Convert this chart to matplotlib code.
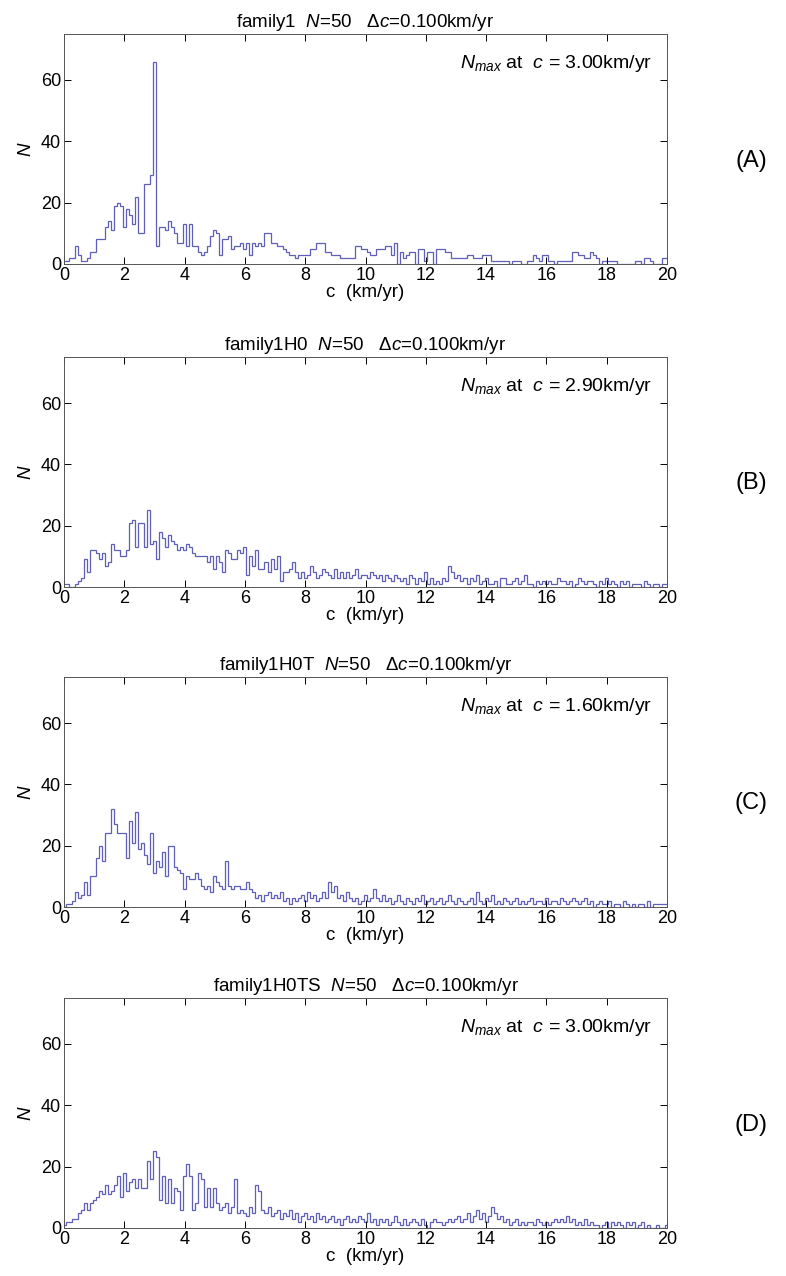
#!/usr/bin/env python3
"""
Velocity histograms for four families (A-D), 0.1 km/yr bins.
"""

import matplotlib

matplotlib.use("Agg")

import matplotlib.pyplot as plt
import numpy as np

plt.rcParams["font.family"] = ["Liberation Sans", "DejaVu Sans"]
plt.rcParams["mathtext.fontset"] = "custom"
plt.rcParams["mathtext.rm"] = "Liberation Sans"
plt.rcParams["mathtext.it"] = "Liberation Sans:italic"

# bin centres 0.0, 0.1, ..., 20.0 km/yr
BIN_CENTERS = np.round(np.arange(0, 201) * 0.1, 2)

COUNTS_A = [
    1, 1, 2, 2, 6, 3, 1, 1, 2, 4, 4, 8, 8, 8, 12, 14, 11, 19, 20, 19,
    12, 18, 16, 13, 22, 10, 10, 26, 26, 29, 66, 6, 12, 12, 11, 14, 12, 10, 7, 7,
    13, 6, 13, 6, 6, 4, 3, 4, 6, 9, 11, 10, 3, 8, 8, 9, 5, 6, 6, 7,
    5, 7, 3, 7, 6, 7, 6, 10, 10, 7, 7, 6, 6, 5, 4, 3, 3, 2, 3, 3,
    3, 3, 5, 5, 7, 7, 7, 4, 4, 3, 3, 3, 2, 2, 2, 2, 2, 6, 6, 5,
    5, 4, 3, 3, 5, 5, 5, 6, 6, 3, 7, 0, 4, 2, 3, 4, 4, 0, 5, 5,
    1, 4, 4, 0, 5, 5, 5, 4, 4, 2, 2, 2, 2, 2, 3, 3, 2, 2, 2, 3,
    3, 3, 1, 1, 1, 1, 1, 1, 0, 1, 1, 1, 0, 0, 1, 1, 3, 2, 1, 3,
    3, 1, 1, 0, 1, 1, 1, 1, 1, 4, 4, 3, 3, 2, 2, 4, 3, 2, 0, 1,
    1, 1, 1, 1, 0, 0, 0, 0, 0, 0, 1, 1, 0, 2, 2, 1, 0, 0, 0, 2,
    2,
]

COUNTS_B = [
    1, 1, 0, 0, 1, 2, 3, 9, 5, 12, 12, 11, 9, 11, 7, 8, 14, 12, 12, 10,
    10, 12, 21, 22, 13, 21, 21, 13, 25, 14, 15, 9, 18, 16, 13, 17, 15, 14, 12, 13,
    12, 14, 13, 11, 10, 10, 10, 10, 8, 10, 6, 10, 8, 5, 12, 11, 9, 9, 12, 11,
    13, 4, 10, 7, 12, 6, 6, 8, 5, 9, 6, 10, 2, 5, 5, 6, 8, 5, 3, 5,
    3, 4, 7, 5, 3, 4, 6, 5, 4, 3, 6, 3, 5, 3, 5, 3, 4, 6, 3, 4,
    4, 3, 5, 4, 3, 4, 2, 4, 3, 2, 4, 3, 2, 3, 1, 4, 3, 1, 3, 2,
    5, 1, 3, 1, 2, 1, 3, 2, 7, 5, 3, 4, 2, 3, 1, 3, 2, 4, 1, 2,
    3, 1, 1, 2, 0, 3, 3, 1, 1, 2, 3, 1, 2, 4, 1, 1, 0, 2, 1, 2,
    1, 2, 1, 1, 3, 2, 2, 1, 2, 0, 1, 3, 2, 1, 2, 2, 1, 0, 2, 1,
    3, 1, 2, 1, 0, 2, 1, 2, 0, 1, 1, 1, 0, 2, 1, 0, 1, 1, 0, 1,
    1,
]

COUNTS_C = [
    0, 1, 1, 2, 5, 3, 4, 8, 4, 10, 10, 16, 20, 15, 24, 24, 32, 27, 24, 24,
    24, 16, 28, 21, 31, 19, 21, 17, 14, 24, 11, 15, 13, 18, 10, 20, 20, 13, 12, 11,
    6, 10, 9, 9, 11, 9, 7, 6, 7, 5, 10, 8, 7, 6, 15, 7, 6, 7, 7, 6,
    6, 8, 6, 5, 3, 4, 2, 4, 5, 3, 4, 3, 5, 2, 3, 1, 3, 2, 3, 4,
    2, 5, 3, 4, 2, 3, 5, 3, 8, 5, 7, 3, 4, 2, 5, 3, 2, 3, 1, 2,
    4, 2, 3, 6, 3, 2, 4, 2, 3, 1, 2, 4, 2, 1, 3, 2, 1, 3, 2, 4,
    1, 2, 3, 1, 2, 3, 1, 2, 4, 2, 1, 3, 2, 1, 2, 3, 1, 5, 2, 1,
    3, 2, 4, 1, 2, 1, 3, 2, 1, 2, 3, 1, 2, 1, 2, 3, 1, 2, 2, 1,
    3, 1, 2, 2, 1, 3, 2, 1, 2, 3, 2, 1, 2, 3, 1, 2, 0, 1, 2, 1,
    1, 2, 0, 1, 1, 0, 2, 1, 0, 1, 0, 1, 1, 0, 2, 0, 1, 1, 1, 1,
    1,
]

COUNTS_D = [
    1, 2, 2, 3, 3, 5, 6, 8, 6, 8, 9, 10, 12, 11, 14, 11, 12, 14, 17, 10,
    18, 12, 15, 16, 13, 16, 13, 13, 22, 16, 25, 23, 9, 17, 8, 16, 8, 13, 12, 6,
    17, 21, 17, 6, 8, 18, 16, 7, 13, 7, 13, 8, 6, 7, 8, 5, 7, 16, 5, 6,
    5, 4, 7, 5, 14, 12, 6, 5, 7, 4, 5, 6, 3, 5, 4, 6, 3, 5, 2, 4,
    5, 3, 4, 2, 5, 3, 4, 2, 3, 4, 2, 3, 1, 3, 4, 2, 3, 2, 4, 3,
    2, 5, 2, 3, 1, 3, 2, 3, 1, 2, 4, 2, 1, 3, 1, 2, 3, 2, 1, 3,
    1, 0, 2, 3, 2, 2, 1, 2, 3, 2, 3, 4, 2, 3, 5, 2, 4, 6, 3, 5,
    2, 4, 7, 5, 3, 4, 2, 3, 1, 2, 3, 1, 2, 1, 2, 2, 1, 3, 2, 1,
    2, 1, 2, 3, 2, 3, 2, 4, 2, 3, 1, 2, 1, 3, 1, 2, 1, 1, 0, 1,
    2, 0, 2, 1, 2, 1, 0, 2, 1, 2, 0, 1, 2, 0, 1, 0, 0, 1, 0, 0,
    1,
]

FAMILIES = ["family1", "family1H0", "family1H0T", "family1H0TS"]
PEAK_C = ["3.00", "2.90", "1.60", "3.00"]
PANEL_TAGS = ["(A)", "(B)", "(C)", "(D)"]

LINE_COLOR = "#5f5fb8"

fig = plt.figure(figsize=(7.86, 12.76), dpi=100)
left, width, height = 64 / 786, 603 / 786, 230 / 1276
bottoms_px = [264, 587, 907, 1228]

edges = np.concatenate([BIN_CENTERS - 0.05, [BIN_CENTERS[-1] + 0.05]])
all_counts = [COUNTS_A, COUNTS_B, COUNTS_C, COUNTS_D]

for name, counts, peak, tag, bpx in zip(FAMILIES, all_counts, PEAK_C, PANEL_TAGS, bottoms_px):
    ax = fig.add_axes([left, (1276 - bpx) / 1276, width, height])
    ax.stairs(counts, edges, color=LINE_COLOR, linewidth=0.9)
    ax.set_xlim(0, 20)
    ax.set_ylim(0, 75)
    ax.set_xticks(np.arange(0, 21, 2))
    ax.set_yticks([0, 20, 40, 60])
    ax.tick_params(direction="in", top=True, right=True, labelsize=13, length=5, width=0.7, pad=2)
    for spine in ax.spines.values():
        spine.set_linewidth(0.7)
        spine.set_color("#555555")
    ax.set_xlabel("c  (km/yr)", fontsize=13.5, labelpad=0)
    ax.set_ylabel("$N$", fontsize=13.5, labelpad=4)
    ax.set_title(f"{name}  $N$=50   $\\Delta c$=0.100km/yr", fontsize=13.5, pad=5)
    ax.text(0.975, 0.87, f"$N_{{max}}$ at  $c$ = {peak}km/yr", transform=ax.transAxes,
            ha="right", va="center", fontsize=14)
    ax.text(1.14, 0.45, tag, transform=ax.transAxes, ha="center", va="center", fontsize=17)

fig.savefig("out.png", dpi=100)
